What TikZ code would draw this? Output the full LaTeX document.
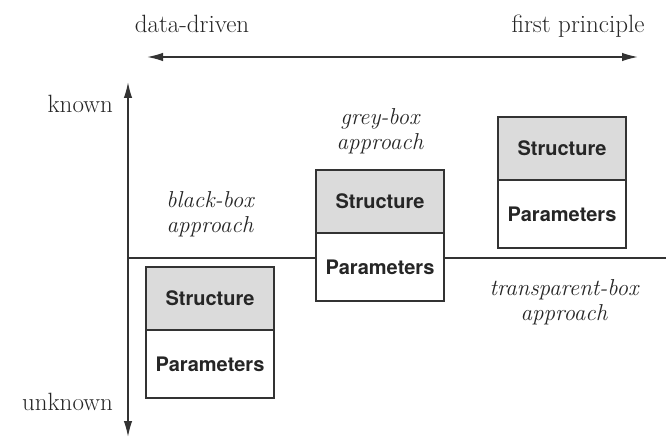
\documentclass[tikz,border=0pt]{standalone}
\usepackage{fontspec}
\newfontfamily\boxfont{TeX Gyre Heros}
\usetikzlibrary{positioning}
\usetikzlibrary{arrows.meta}
\colorlet{mygrey}{black!14}
\colorlet{myline}{black!80}
\colorlet{mytext}{black!85}
\tikzset{
  >={Latex[length=16,width=8.5]}, % filled arrow heads
  axis/.style={line width=1.6,myline},
  box/.style={draw=myline,line width=2,minimum width=128,minimum height=63,inner sep=0,outer sep=0,
    text=black!85,font=\boxfont\bfseries\fontsize{20}{24}\selectfont},
  box struct/.style={box,fill=mygrey},
  box param/.style={box,fill=white,minimum height=68},
  axis label/.style={inner sep=0,text=mytext,font=\fontsize{25}{29}\selectfont},
  approach/.style={inner sep=0,align=center,text=mytext,font=\itshape\fontsize{23}{25}\selectfont}
}

\begin{document}
\begin{tikzpicture}[x=1pt,y=-1pt]
\useasboundingbox (0,0) rectangle (666,438);
% axes
\coordinate (L) at (147,57);
\coordinate (R) at (638,57);
\coordinate (T) at (128,82);
\coordinate (B) at (128,437);
\coordinate (H0) at (128,258);
\coordinate (H1) at (666,258);
\draw[axis,<->] (L) -- (R);
\draw[axis,<->] (B) -- (T);
\draw[axis] (H0) -- (H1);
\path
(192,33)  node[axis label,anchor=base] (dd) {data-driven}
(578,33)  node[axis label,anchor=base] (fp) {first principle}
(113,113) node[axis label,anchor=base east] (kn) {known}
(113,410) node[axis label,anchor=base east] (unk) {unknown};
% boxes
\node[box struct] (s1) at (210,298.5) {Structure};
\node[box param,below=0 of s1] (p1) {Parameters};
\node[box struct] (s2) at (380,201.5) {Structure};
\node[box param,below=0 of s2] (p2) {Parameters};
\node[box struct] (s3) at (562,148.5) {Structure};
\node[box param,below=0 of s3] (p3) {Parameters};
% labels
\node[approach] (a1) at (210,214) {black-box\\approach};
\node[approach] (a2) at (380,131) {grey-box\\approach};
\node[approach] (a3) at (564,302) {transparent-box\\approach};
\end{tikzpicture}
\end{document}
